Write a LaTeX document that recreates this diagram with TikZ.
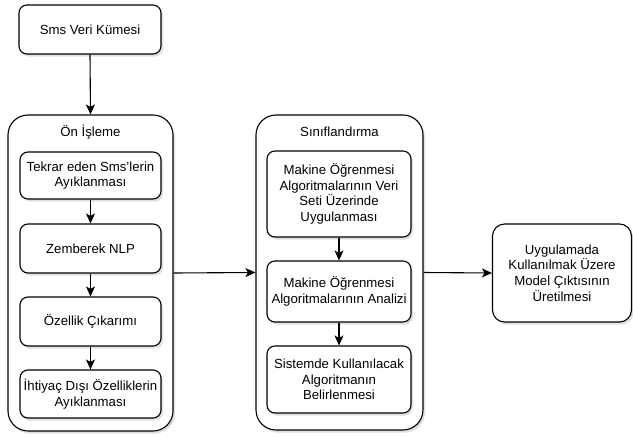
\documentclass[tikz,border=0pt]{standalone}
\usepackage{fontspec}
\setmainfont{Liberation Sans}
\usetikzlibrary{arrows.meta,shadows}
\begin{document}
\begin{tikzpicture}[x=1pt,y=-1pt,
  shd/.style={drop shadow={shadow xshift=2pt,shadow yshift=-2.5pt,opacity=0.25,fill=gray}},
  box/.style={draw=black,line width=1.1pt,fill=white,rounded corners=8pt,align=center,inner sep=0pt,
    font=\fontsize{13.2}{15.6}\selectfont,shd},
  cont/.style={draw=black,line width=1.1pt,fill=white,rounded corners=20pt,inner sep=0pt,shd},
  lbl/.style={font=\fontsize{13.2}{15.6}\selectfont,inner sep=0pt},
  arr/.style={line width=1.1pt,-{Stealth[length=10pt,width=9pt,inset=2.5pt]}}]
\useasboundingbox (0,0) rectangle (633,437);
\node[box,minimum width=142pt,minimum height=49pt] (sms) at (90,29.5) {Sms Veri Kümesi};
\node[cont,minimum width=165pt,minimum height=316pt] (pre) at (90.5,273) {};
\node[lbl] (pret) at (90.5,132) {Ön İşleme};
\node[box,minimum width=141pt,minimum height=47pt] (t1) at (90.5,175.5) {Tekrar eden Sms'lerin\\Ayıklanması};
\node[box,minimum width=141pt,minimum height=49pt] (t2) at (90.5,248.5) {Zemberek NLP};
\node[box,minimum width=141pt,minimum height=49pt] (t3) at (90.5,321.5) {Özellik Çıkarımı};
\node[box,minimum width=141pt,minimum height=48pt] (t4) at (90.5,394) {İhtiyaç Dışı Özelliklerin\\Ayıklanması};
\node[cont,minimum width=167pt,minimum height=315pt] (cls) at (339.5,272.5) {};
\node[lbl] (clst) at (339.5,132) {Sınıflandırma};
\node[box,minimum width=144pt,minimum height=86pt] (c1) at (339,194) {Makine Öğrenmesi\\Algoritmalarının Veri\\Seti Üzerinde\\Uygulanması};
\node[box,minimum width=144pt,minimum height=61pt] (c2) at (339,291.5) {Makine Öğrenmesi\\Algoritmalarının Analizi};
\node[box,minimum width=144pt,minimum height=67pt] (c3) at (339,379.5) {Sistemde Kullanılacak\\Algoritmanın\\Belirlenmesi};
\node[box,rounded corners=12pt,minimum width=139pt,minimum height=98pt] (out) at (562,273) {Uygulamada\\Kullanılmak Üzere\\Model Çıktısının\\Üretilmesi};
\draw[arr] (sms.south) -- (pre.north);
\draw[arr] (t1.south) -- (t2.north);
\draw[arr] (t2.south) -- (t3.north);
\draw[arr] (t3.south) -- (t4.north);
\draw[arr] (c1.south) -- (c2.north);
\draw[arr] (c2.south) -- (c3.north);
\draw[arr] (pre.east) -- (cls.west);
\draw[arr] (cls.east) -- (out.west);
\end{tikzpicture}
\end{document}
